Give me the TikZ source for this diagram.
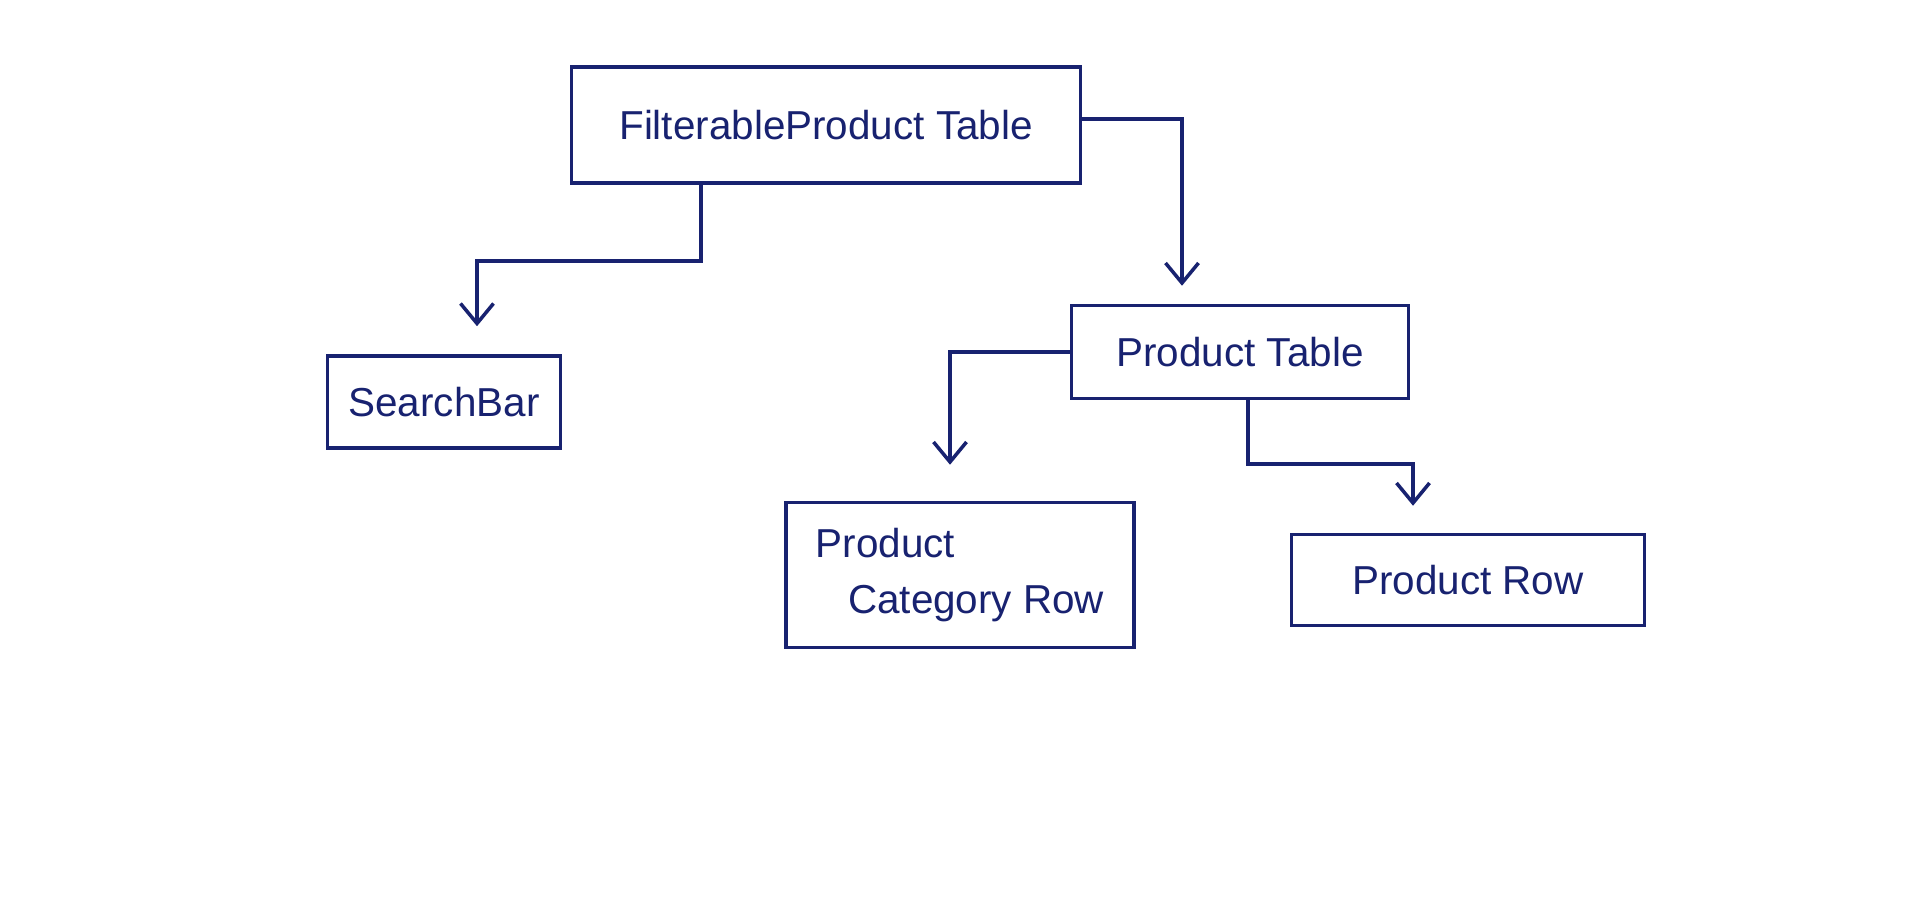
\documentclass[tikz,border=0pt]{standalone}
\usepackage{fontspec}
\setmainfont{Liberation Sans}
\usetikzlibrary{arrows.meta, positioning}
\definecolor{ink}{RGB}{24,34,112}

\begin{document}
\begin{tikzpicture}[
    comp/.style={draw=ink, line width=1pt, text=ink, font=\fontsize{11.5}{16}\selectfont, inner sep=0pt},
    link/.style={draw=ink, line width=1pt, -{Straight Barb[length=2mm, width=3.3mm]}}
  ]
    \useasboundingbox[fill=white] (0,0) rectangle (19.18,9.23);

    % Components
    \node[comp, minimum width=5.09cm, minimum height=1.16cm] (fpt) at (8.26, 7.98) {FilterableProduct Table};
    \node[comp, minimum width=2.33cm, minimum height=0.92cm] (sb) at (4.44, 5.21) {SearchBar};
    \node[comp, minimum width=3.37cm, minimum height=0.93cm] (pt) at (12.40, 5.71) {Product Table};
    \node[comp, minimum width=3.48cm, minimum height=1.45cm, align=left] (pcr) at (9.60, 3.48) {Product\\\hspace{0.8em}Category Row};
    \node[comp, minimum width=3.53cm, minimum height=0.91cm] (pr) at (14.68, 3.43) {Product Row};

    % Connections
    \draw[link, shorten >=0.28cm] ([xshift=-1.25cm]fpt.south) -- ++(0,-0.76) -| ([xshift=0.33cm]sb.north);
    \draw[link, shorten >=0.18cm] ([yshift=0.06cm]fpt.east) -| ([xshift=-0.58cm]pt.north);
    \draw[link, shorten >=0.36cm] (pt.west) -| ([xshift=-0.10cm]pcr.north);
    \draw[link, shorten >=0.27cm] ([xshift=0.08cm]pt.south) -- ++(0,-0.635) -| ([xshift=-0.55cm]pr.north);
\end{tikzpicture}
\end{document}
